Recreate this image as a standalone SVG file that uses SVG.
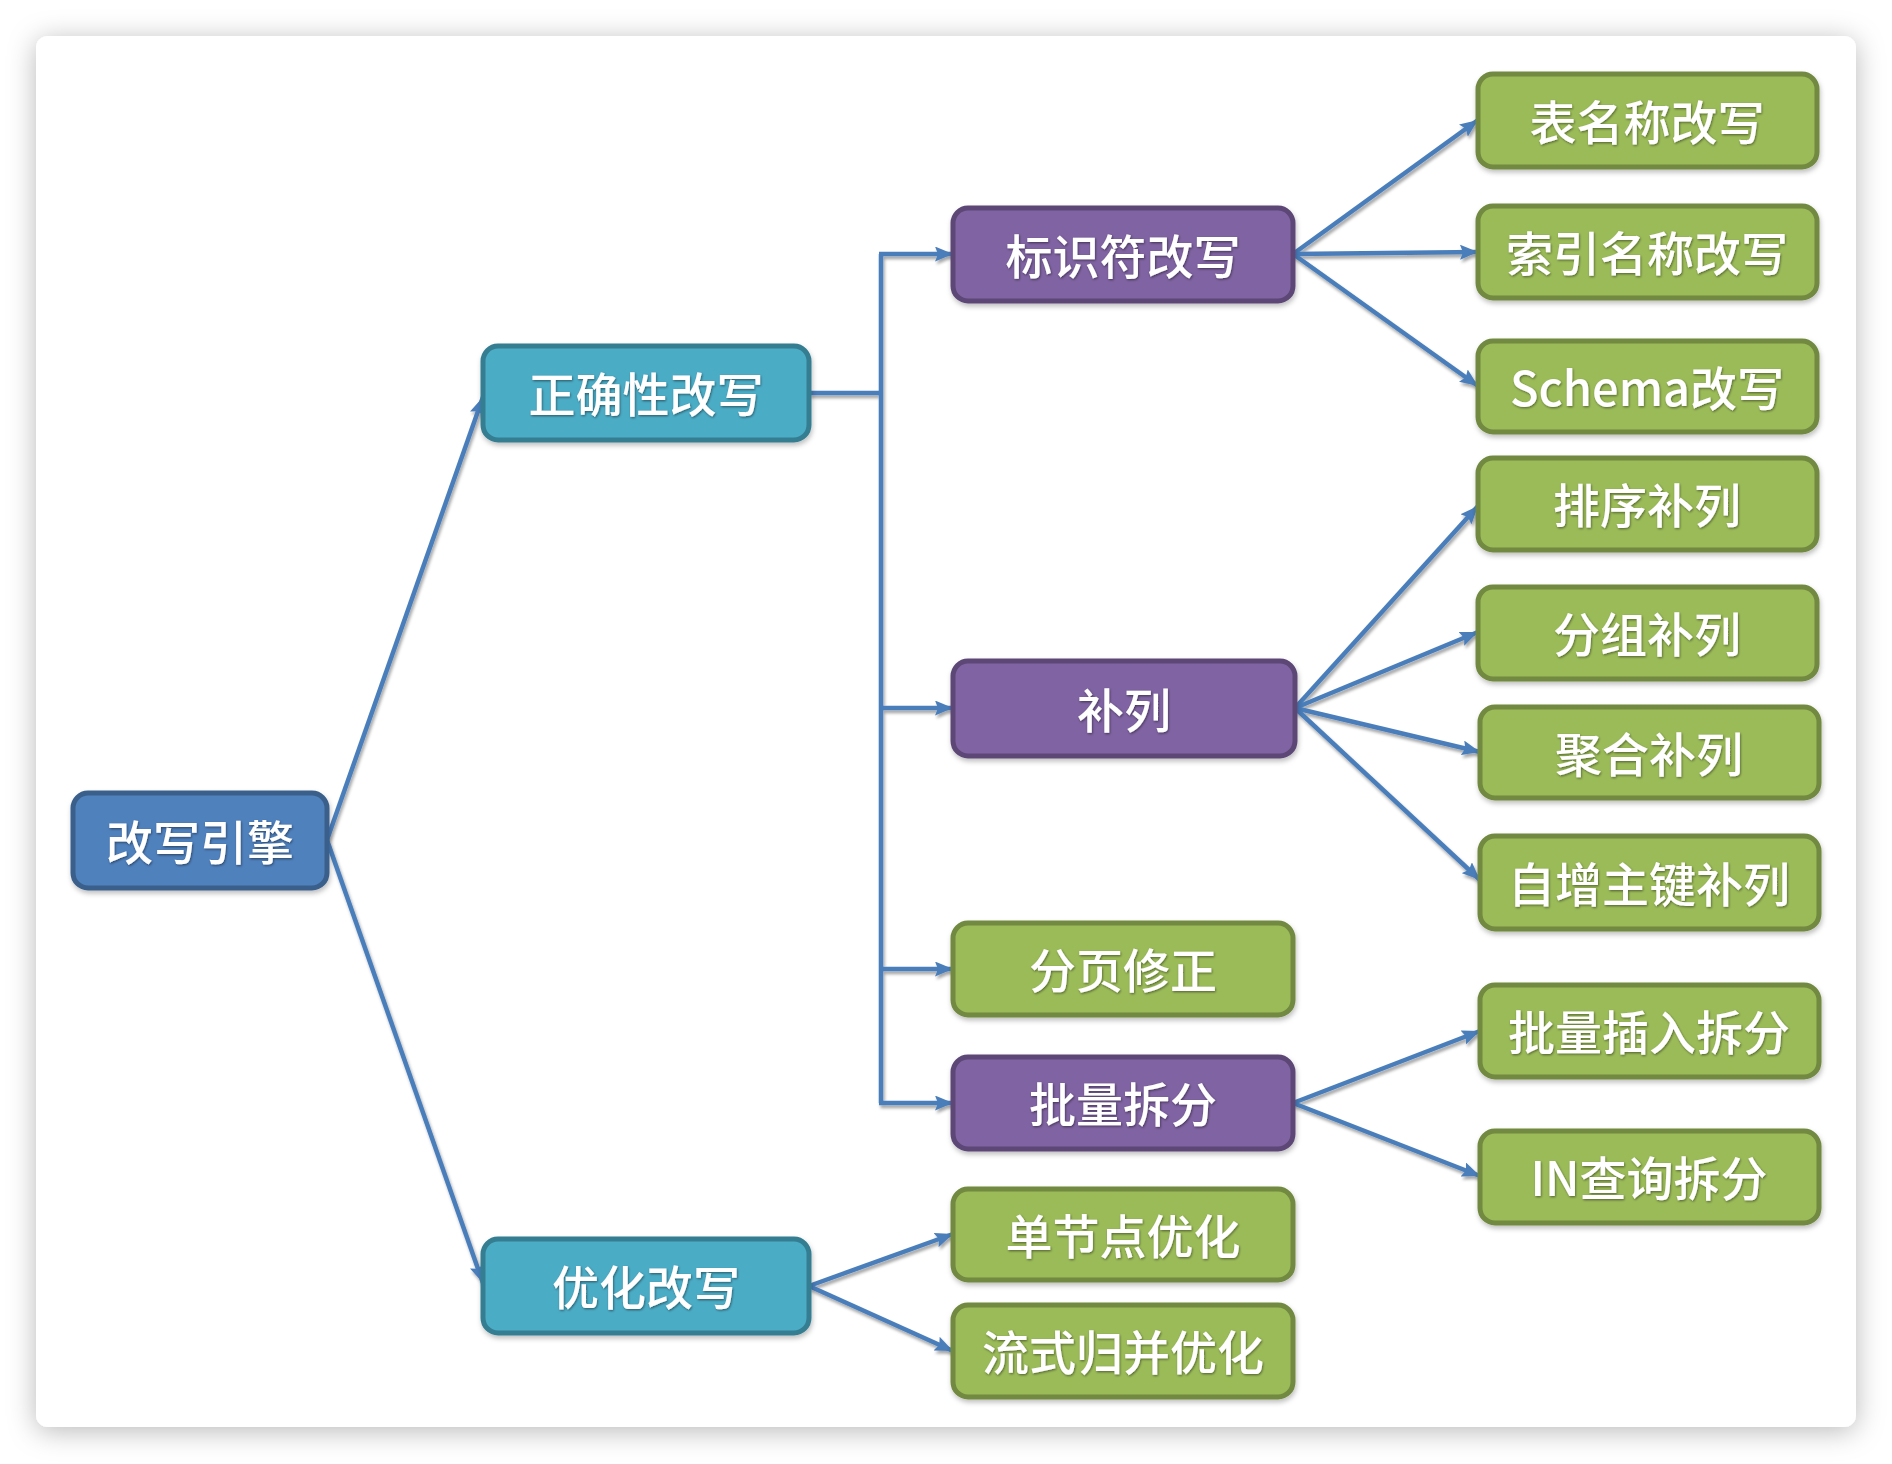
<svg xmlns="http://www.w3.org/2000/svg" width="1892" height="1464" viewBox="0 0 1892 1464">
<defs>
<filter id="cardShadow" x="-5%" y="-5%" width="110%" height="110%">
<feDropShadow dx="0" dy="4" stdDeviation="14" flood-color="#000" flood-opacity="0.28"/>
</filter>
<filter id="lineShadow" x="-10%" y="-10%" width="120%" height="120%">
<feDropShadow dx="1.5" dy="3" stdDeviation="1.6" flood-color="#000" flood-opacity="0.35"/>
</filter>
<filter id="boxShadow" x="-10%" y="-10%" width="120%" height="130%">
<feDropShadow dx="1" dy="3" stdDeviation="2.5" flood-color="#000" flood-opacity="0.25"/>
</filter>
<filter id="textShadow" x="-5%" y="-10%" width="110%" height="130%">
<feDropShadow dx="0.8" dy="1.2" stdDeviation="0.8" flood-color="#000" flood-opacity="0.45"/>
</filter>
<marker id="arrow" viewBox="0 0 18 15" refX="18" refY="7.5" markerWidth="18" markerHeight="15" markerUnits="userSpaceOnUse" orient="auto">
<path d="M0,0 L18,7.5 L0,15 L3,7.5 z" fill="#4A7EBB"/>
</marker>
<style>
.box{stroke-width:5;filter:url(#boxShadow)}
.root{fill:#4F81BD;stroke:#3A5F8B}
.teal{fill:#4BACC6;stroke:#357D91}
.purple{fill:#8064A2;stroke:#5C4776}
.green{fill:#9BBB59;stroke:#71893F}
.lbl{font-family:"Noto Sans CJK SC","Noto Sans",sans-serif;font-size:47px;font-weight:500;fill:#fff;text-anchor:middle;dominant-baseline:central;filter:url(#textShadow)}
.conn{fill:none;stroke:#4A7EBB;stroke-width:4.5}
.arr{marker-end:url(#arrow)}
</style>
</defs>
<rect x="0" y="0" width="1892" height="1464" fill="#fff"/>
<rect x="36" y="36" width="1820" height="1391" rx="12" fill="#fff" filter="url(#cardShadow)"/>

<g id="connectors" filter="url(#lineShadow)">
<path class="conn arr" d="M327,840 L483,397"/>
<path class="conn arr" d="M327,840 L483,1283"/>
<path class="conn" d="M809,393 H881"/>
<path class="conn" d="M881,254 V1103"/>
<path class="conn arr" d="M879,254 H953"/>
<path class="conn arr" d="M879,708 H953"/>
<path class="conn arr" d="M879,969 H953"/>
<path class="conn arr" d="M879,1103 H953"/>
<path class="conn arr" d="M1293,254 L1478,120"/>
<path class="conn arr" d="M1293,254 L1478,252"/>
<path class="conn arr" d="M1293,254 L1478,386"/>
<path class="conn arr" d="M1295,708 L1478,506"/>
<path class="conn arr" d="M1295,708 L1478,632"/>
<path class="conn arr" d="M1295,708 L1480,752"/>
<path class="conn arr" d="M1295,708 L1480,880"/>
<path class="conn arr" d="M1293,1103 L1480,1031"/>
<path class="conn arr" d="M1293,1103 L1480,1176"/>
<path class="conn arr" d="M809,1286 L953,1234"/>
<path class="conn arr" d="M809,1286 L953,1351"/>
</g>

<g id="n-engine"><rect class="box root" x="73" y="793" width="254" height="95" rx="15"/><text class="lbl" x="200" y="839">改写引擎</text></g>
<g id="n-correct"><rect class="box teal" x="483" y="346" width="326" height="94" rx="15"/><text class="lbl" x="646" y="391">正确性改写</text></g>
<g id="n-optimize"><rect class="box teal" x="483" y="1239" width="326" height="94" rx="15"/><text class="lbl" x="646" y="1284">优化改写</text></g>
<g id="n-ident"><rect class="box purple" x="953" y="208" width="340" height="93" rx="15"/><text class="lbl" x="1123" y="253">标识符改写</text></g>
<g id="n-addcol"><rect class="box purple" x="953" y="661" width="342" height="95" rx="15"/><text class="lbl" x="1124" y="707">补列</text></g>
<g id="n-paging"><rect class="box green" x="953" y="923" width="340" height="92" rx="15"/><text class="lbl" x="1123" y="967">分页修正</text></g>
<g id="n-batch"><rect class="box purple" x="953" y="1057" width="340" height="92" rx="15"/><text class="lbl" x="1123" y="1101">批量拆分</text></g>
<g id="n-single"><rect class="box green" x="953" y="1189" width="340" height="91" rx="15"/><text class="lbl" x="1123" y="1233">单节点优化</text></g>
<g id="n-stream"><rect class="box green" x="953" y="1305" width="340" height="92" rx="15"/><text class="lbl" x="1123" y="1349">流式归并优化</text></g>
<g id="n-table"><rect class="box green" x="1478" y="74" width="339" height="93" rx="15"/><text class="lbl" x="1647" y="119">表名称改写</text></g>
<g id="n-index"><rect class="box green" x="1478" y="206" width="339" height="92" rx="15"/><text class="lbl" x="1647" y="250">索引名称改写</text></g>
<g id="n-schema"><rect class="box green" x="1478" y="341" width="339" height="91" rx="15"/><text class="lbl" x="1647" y="385">Schema改写</text></g>
<g id="n-order"><rect class="box green" x="1478" y="458" width="339" height="92" rx="15"/><text class="lbl" x="1647" y="502">排序补列</text></g>
<g id="n-group"><rect class="box green" x="1478" y="587" width="339" height="92" rx="15"/><text class="lbl" x="1647" y="631">分组补列</text></g>
<g id="n-agg"><rect class="box green" x="1480" y="707" width="339" height="91" rx="15"/><text class="lbl" x="1649" y="751">聚合补列</text></g>
<g id="n-autoinc"><rect class="box green" x="1480" y="836" width="339" height="93" rx="15"/><text class="lbl" x="1649" y="881">自增主键补列</text></g>
<g id="n-batchins"><rect class="box green" x="1480" y="985" width="339" height="92" rx="15"/><text class="lbl" x="1649" y="1029">批量插入拆分</text></g>
<g id="n-in"><rect class="box green" x="1480" y="1131" width="339" height="92" rx="15"/><text class="lbl" x="1649" y="1175">IN查询拆分</text></g>
</svg>
